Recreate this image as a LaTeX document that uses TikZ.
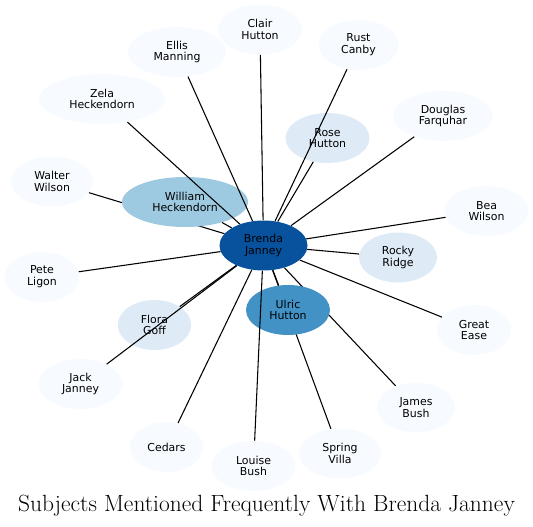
\documentclass[tikz,border=0pt]{standalone}
\usepackage{fontspec}
\usetikzlibrary{shapes.geometric}
\newfontfamily\nodefont{DejaVu Sans}
\definecolor{fonce}{HTML}{08519C}
\definecolor{moyen}{HTML}{4292C6}
\definecolor{clair}{HTML}{9ECAE1}
\definecolor{pale}{HTML}{DEEBF7}
\definecolor{blanc}{HTML}{F7FBFF}
\pgfdeclarelayer{fond}
\pgfsetlayers{fond,main}

\begin{document}
\begin{tikzpicture}[x=0.75pt, y=-0.75pt]
\tikzset{sujet/.style={ellipse, fill=#1, minimum height=37.5pt, inner sep=0pt, align=center,
    font=\nodefont\fontsize{8.2}{8.8}\selectfont},
  lien/.style={line width=0.8pt}}
\useasboundingbox (0,0) rectangle (533,527);
\node[sujet=blanc, minimum width=63pt] (CH) at (260,29.5) {Clair\\Hutton};
\node[sujet=blanc, minimum width=73.5pt] (EM) at (177,52) {Ellis\\Manning};
\node[sujet=blanc, minimum width=60pt] (RC) at (358.5,45) {Rust\\Canby};
\node[sujet=blanc, minimum width=94.5pt] (ZH) at (102,99) {Zela\\Heckendorn};
\node[sujet=blanc, minimum width=75pt] (DF) at (443,116) {Douglas\\Farquhar};
\node[sujet=pale, minimum width=63pt] (RH) at (327.5,138) {Rose\\Hutton};
\node[sujet=blanc, minimum width=61.5pt] (WW) at (52,181.5) {Walter\\Wilson};
\node[sujet=clair, minimum width=94.5pt] (WH) at (185,202) {William\\Heckendorn};
\node[sujet=blanc, minimum width=63pt] (BW) at (486.5,211) {Bea\\Wilson};
\node[sujet=pale, minimum width=58.5pt] (RR) at (398,257.5) {Rocky\\Ridge};
\node[sujet=blanc, minimum width=56pt] (PL) at (42,277) {Pete\\Ligon};
\node[sujet=pale, minimum width=55pt] (FG) at (154.5,325) {Flora\\Goff};
\node[sujet=blanc, minimum width=55.5pt] (GE) at (474,330) {Great\\Ease};
\node[sujet=blanc, minimum width=63pt] (JJ) at (80.5,384) {Jack\\Janney};
\node[sujet=blanc, minimum width=58.5pt] (JB) at (416,407.5) {James\\Bush};
\node[sujet=blanc, minimum width=55pt] (Ce) at (166.5,447) {Cedars};
\node[sujet=blanc, minimum width=61.5pt] (SV) at (340,453.5) {Spring\\Villa};
\node[sujet=blanc, minimum width=63pt] (LB) at (253.5,466) {Louise\\Bush};
\node[sujet=moyen, minimum width=63pt] (UH) at (288,310) {Ulric\\Hutton};
\node[sujet=fonce, minimum width=66pt] (BJ) at (263.5,245.5) {Brenda\\Janney};
% liens caches sous les noeuds
\begin{pgfonlayer}{fond}
\draw[lien] (BJ) -- (WW);
\draw[lien] (BJ) -- (SV);
\draw[lien] (BJ) -- (JB);
\end{pgfonlayer}
\draw[lien] (BJ) -- (CH);
\draw[lien] (BJ) -- (EM);
\draw[lien] (BJ) -- (ZH);
\draw[lien] (BJ) -- (WH);
\draw[lien] (BJ) -- (PL);
\draw[lien] (BJ) -- (FG);
\draw[lien] (BJ) -- (JJ);
\draw[lien] (BJ) -- (Ce);
\draw[lien] (BJ) -- (LB);
\draw[lien] (BJ) -- (UH);
\draw[lien] (BJ) -- (GE);
\draw[lien] (BJ) -- (RR);
\draw[lien] (BJ) -- (BW);
\draw[lien] (BJ) -- (DF);
\draw[lien] (BJ) -- (RH);
\draw[lien] (BJ) -- (RC);
\node[anchor=base, font=\fontsize{17.6}{21}\selectfont] (titre) at (266.5,512) {Subjects Mentioned Frequently With Brenda Janney};
\end{tikzpicture}
\end{document}
